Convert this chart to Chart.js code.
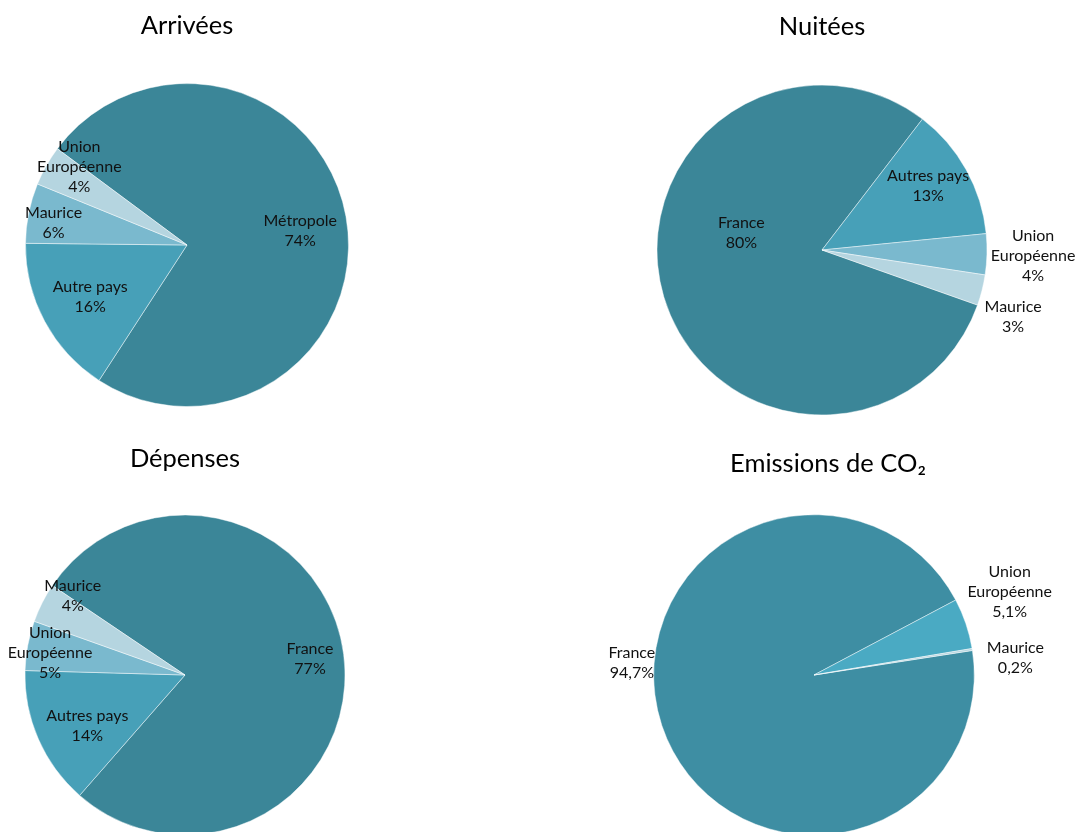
<!DOCTYPE html>
<html lang="fr">
<head>
<meta charset="utf-8">
<title>Tourisme : arrivées, nuitées, dépenses et émissions de CO₂</title>
<script src="https://cdn.jsdelivr.net/npm/chart.js@4/dist/chart.umd.min.js"></script>
<style>
  html, body { margin: 0; padding: 0; background: #ffffff; width: 1079px; height: 832px; overflow: hidden; }
  .box { position: absolute; }
</style>
</head>
<body>
<div class="box" style="left:0px;top:0px;width:374px;height:407px"><canvas id="arrivees"></canvas></div>
<div class="box" style="left:565px;top:0px;width:514px;height:416px"><canvas id="nuitees"></canvas></div>
<div class="box" style="left:0px;top:430px;width:370px;height:406px"><canvas id="depenses"></canvas></div>
<div class="box" style="left:556px;top:430px;width:516px;height:406px"><canvas id="co2"></canvas></div>
<script>
// Parts par origine (en %)
const arriveesLabels = ['Métropole', 'Autre pays', 'Maurice', ['Union', 'Européenne']];
const arriveesValues = [74, 16, 6, 4];

const nuiteesLabels = ['France', 'Autres pays', ['Union', 'Européenne'], 'Maurice'];
const nuiteesValues = [80, 13, 4, 3];

const depensesLabels = ['France', 'Autres pays', ['Union', 'Européenne'], 'Maurice'];
const depensesValues = [77, 14, 5, 4];

const co2Labels = ['France', ['Union', 'Européenne'], 'Maurice'];
const co2Values = [94.7, 5.1, 0.2];

// Palette
const DARK = '#3b8698';
const MID = '#47a0b8';
const SOFT = '#7ab9ce';
const PALE = '#b5d5e0';

const fmt = v => String(v).replace('.', ',') + '%';

// Draws "name / value" labels around each slice
const sliceLabels = {
  id: 'sliceLabels',
  afterDatasetsDraw(chart, args, opts) {
    const ctx = chart.ctx;
    const meta = chart.getDatasetMeta(0);
    const values = chart.data.datasets[0].data;
    ctx.save();
    ctx.font = opts.font;
    ctx.fillStyle = opts.color;
    ctx.textAlign = 'center';
    ctx.textBaseline = 'middle';
    meta.data.forEach((arc, i) => {
      const p = arc.getProps(['x', 'y', 'startAngle', 'endAngle', 'outerRadius'], true);
      const place = opts.place[i];
      const ang = (p.startAngle + p.endAngle) / 2 + place.a * Math.PI / 180;
      const cx = p.x + Math.cos(ang) * place.r * p.outerRadius;
      const cy = p.y + Math.sin(ang) * place.r * p.outerRadius;
      const name = chart.data.labels[i];
      const lines = (Array.isArray(name) ? name : [name]).concat(fmt(values[i]));
      lines.forEach((t, k) => ctx.fillText(t, cx, cy + (k - (lines.length - 1) / 2) * opts.lineHeight));
    });
    ctx.restore();
  }
};

// Lets a title sit off the pie's axis
const titleShift = {
  id: 'titleShift',
  afterLayout(chart, args, opts) {
    const t = chart.titleBlock;
    if (t && opts.dx) { t.left += opts.dx; t.right += opts.dx; }
  }
};

function makePie(id, title, labels, values, colors, rotation, titlePad, bottomPad, place, dx) {
  return new Chart(document.getElementById(id), {
    type: 'pie',
    data: {
      labels: labels,
      datasets: [{
        data: values,
        backgroundColor: colors,
        borderColor: 'rgba(255,255,255,0.45)',
        borderWidth: 1
      }]
    },
    options: {
      responsive: true,
      maintainAspectRatio: false,
      animation: false,
      rotation: rotation,
      layout: { padding: { left: 0, right: 0, top: 0, bottom: bottomPad } },
      events: [],
      plugins: {
        legend: { display: false },
        tooltip: { enabled: false },
        title: {
          display: true,
          text: title,
          color: '#000000',
          font: { family: 'Lato', size: 25.5, weight: 'normal', lineHeight: 1.2 },
          padding: titlePad
        },
        sliceLabels: {
          font: '16px Lato',
          color: '#111111',
          lineHeight: 20,
          place: place
        },
        titleShift: { dx: dx || 0 }
      }
    },
    plugins: [sliceLabels, titleShift]
  });
}

makePie('arrivees', 'Arrivées', arriveesLabels, arriveesValues,
  [DARK, MID, SOFT, PALE], -53.4,
  { top: 10.5, bottom: 41.9 }, 0,
  [{ r: 0.707, a: 2.9 }, { r: 0.679, a: 0.2 }, { r: 0.838, a: -1.8 }, { r: 0.824, a: 6.6 }]);

makePie('nuitees', 'Nuitées', nuiteesLabels, nuiteesValues,
  [DARK, MID, SOFT, PALE], 109.5,
  { top: 11.0, bottom: 42.9 }, 0.5,
  [{ r: 0.5, a: 28.6 }, { r: 0.751, a: -2 }, { r: 1.28, a: 0.1 }, { r: 1.227, a: 5.2 }]);

makePie('depenses', 'Dépenses', depensesLabels, depensesValues,
  [DARK, MID, SOFT, PALE], -56,
  { top: 13.0, bottom: 40.9 }, 0.5,
  [{ r: 0.788, a: 0 }, { r: 0.689, a: -4 }, { r: 0.855, a: -1.1 }, { r: 0.859, a: 8.4 }]);

makePie('co2', 'Emissions de CO₂', co2Labels, co2Values,
  ['#3e8ea3', '#4aaac3', PALE], 81.2,
  { top: 18.4, bottom: 35.2 }, 0.2,
  [{ r: 1.139, a: 22.2 }, { r: 1.326, a: -4.3 }, { r: 1.261, a: 4.2 }], 14);
</script>
</body>
</html>
